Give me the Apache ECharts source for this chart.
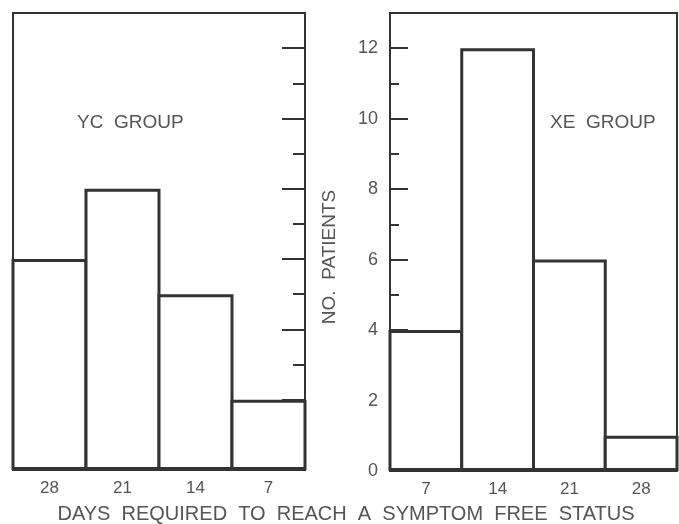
<!DOCTYPE html>
<html>
<head>
<meta charset="utf-8">
<script src="https://cdn.jsdelivr.net/npm/echarts@6/dist/echarts.min.js"></script>
<style>html,body{margin:0;padding:0;background:#fff;}#c{width:679px;height:524px;}</style>
</head>
<body>
<div id="c"></div>
<script>
var ycCategories = ['28', '21', '14', '7'];
var ycValues = [6, 8, 5, 2];
var xeCategories = ['7', '14', '21', '28'];
var xeValues = [4, 12, 6, 1];
var yTickLabels = ['0', '2', '4', '6', '8', '10', '12'];

var FONT = 'Liberation Sans, Arial, sans-serif';
var LINE = '#333';
var TXT = '#555';
var BW = 3;

var chart = echarts.init(document.getElementById('c'));

function xAxis(idx, cats) {
  return {
    type: 'category', gridIndex: idx, data: cats,
    axisLine: { show: true, lineStyle: { color: LINE, width: 2 } },
    axisTick: { show: false },
    axisLabel: { color: TXT, fontSize: 17, fontFamily: FONT, margin: 10 }
  };
}
function yMajor(idx, pos, showLabel, len) {
  return {
    type: 'value', gridIndex: idx, position: pos, min: 0, max: 13, interval: 2,
    axisLine: { show: true, lineStyle: { color: LINE, width: 2 } },
    axisTick: { show: true, inside: true, length: len, lineStyle: { color: LINE, width: 2 } },
    axisLabel: {
      show: showLabel, color: TXT, fontSize: 18, fontFamily: FONT, margin: 12,
      formatter: function (v) { return yTickLabels.indexOf(String(v)) >= 0 ? String(v) : ''; }
    },
    splitLine: { show: false }
  };
}
function yMinor(idx, pos, len) {
  return {
    type: 'value', gridIndex: idx, position: pos, min: 0, max: 13, interval: 1,
    axisLine: { show: false },
    axisTick: { show: true, inside: true, length: len, lineStyle: { color: LINE, width: 2 } },
    axisLabel: { show: false },
    splitLine: { show: false }
  };
}
function bars(xi, yi, vals, bandWidth) {
  return {
    type: 'bar', xAxisIndex: xi, yAxisIndex: yi, data: vals,
    barWidth: bandWidth + BW,
    itemStyle: { color: '#fff', borderColor: LINE, borderWidth: BW },
    silent: true, animation: false
  };
}

chart.setOption({
  animation: false,
  grid: [
    { left: 13, right: 374, top: 13, bottom: 54, show: true, borderColor: LINE, borderWidth: 2, backgroundColor: 'transparent' },
    { left: 390, right: 2, top: 13, bottom: 53, show: true, borderColor: LINE, borderWidth: 2, backgroundColor: 'transparent' }
  ],
  xAxis: [xAxis(0, ycCategories), xAxis(1, xeCategories)],
  yAxis: [
    yMajor(0, 'right', false, 23),
    yMinor(0, 'right', 12),
    yMajor(1, 'left', true, 18),
    yMinor(1, 'left', 9)
  ],
  series: [bars(0, 0, ycValues, 292 / 4), bars(1, 2, xeValues, 287 / 4)],
  graphic: [
    { type: 'text', left: 77, top: 113, style: { text: 'YC  GROUP', fill: TXT, font: '19px ' + FONT } },
    { type: 'text', left: 550, top: 113, style: { text: 'XE  GROUP', fill: TXT, font: '19px ' + FONT } },
    { type: 'text', x: 330, y: 257, rotation: Math.PI / 2,
      style: { text: 'NO.  PATIENTS', fill: TXT, font: '19px ' + FONT, textAlign: 'center', textVerticalAlign: 'middle' } },
    { type: 'text', x: 346, y: 514,
      style: { text: 'DAYS  REQUIRED  TO  REACH  A  SYMPTOM  FREE  STATUS', fill: TXT, font: '20px ' + FONT, textAlign: 'center', textVerticalAlign: 'middle' } }
  ]
});
</script>
</body>
</html>
